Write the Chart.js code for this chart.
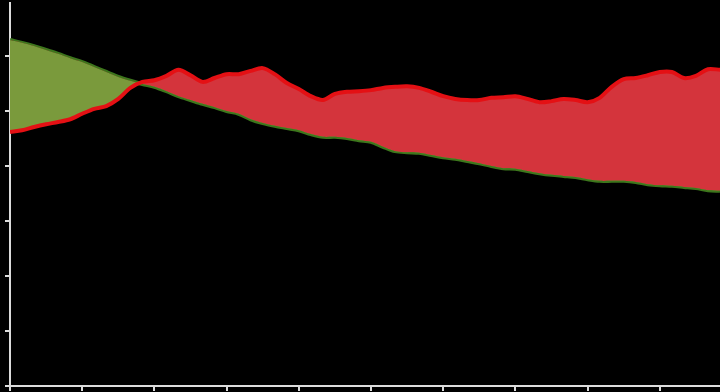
<!DOCTYPE html>
<html>
<head>
<meta charset="utf-8">
<script src="https://cdn.jsdelivr.net/npm/chart.js@4/dist/chart.umd.min.js"></script>
<style>
  html, body { margin: 0; padding: 0; background: #000; overflow: hidden; }
  #wrap { width: 720px; height: 392px; }
  #spreadChart { filter: blur(0.5px); }
</style>
</head>
<body>
<div id="wrap"><canvas id="spreadChart"></canvas></div>
<script>
'use strict';

// one point per month, axis ticks every 6 months
var months = Array.from({ length: 60 }, function (_, i) { return i; });

var redValues = [
  46.2, 46.5, 47.1, 47.6, 48.0, 48.5, 49.5, 50.4, 50.9, 52.2,
  54.2, 55.3, 55.6, 56.4, 57.5, 56.5, 55.3, 56.0, 56.7, 56.7,
  57.3, 57.8, 56.7, 55.1, 54.0, 52.7, 52.0, 53.1, 53.5, 53.6,
  53.8, 54.2, 54.4, 54.5, 54.2, 53.5, 52.7, 52.2, 52.0, 52.0,
  52.4, 52.5, 52.7, 52.2, 51.6, 51.8, 52.2, 52.0, 51.6, 52.4,
  54.4, 55.8, 56.0, 56.5, 57.1, 57.1, 56.0, 56.4, 57.6, 57.5
];

var greenValues = [
  62.9, 62.4, 61.8, 61.1, 60.4, 59.6, 58.9, 58.0, 57.1, 56.2,
  55.5, 54.9, 54.4, 53.6, 52.7, 52.0, 51.3, 50.7, 50.0, 49.5,
  48.5, 47.8, 47.3, 46.9, 46.5, 45.8, 45.3, 45.3, 45.1, 44.7,
  44.4, 43.5, 42.7, 42.5, 42.4, 42.0, 41.6, 41.3, 40.9, 40.5,
  40.0, 39.6, 39.5, 39.1, 38.7, 38.4, 38.2, 38.0, 37.6, 37.3,
  37.3, 37.3, 37.1, 36.7, 36.5, 36.4, 36.2, 36.0, 35.6, 35.5
];

function toPoints(values) {
  return values.map(function (v, i) { return { x: months[i], y: v }; });
}

var axisColor = "#dcdcdc";

var ctx = document.getElementById("spreadChart").getContext("2d");

var spreadChart = new Chart(ctx, {
  type: "line",
  data: {
    datasets: [
      {
        data: toPoints(redValues),
        borderColor: "rgb(228, 16, 20)",
        borderWidth: 4,
        pointRadius: 0,
        tension: 0.3,
        // red where it runs above the green line, green where below
        fill: { target: 1, above: "rgb(212, 52, 60)", below: "rgb(122, 154, 60)" },
      },
      {
        data: toPoints(greenValues),
        borderColor: "rgb(60, 118, 28)",
        borderWidth: 4,
        pointRadius: 0,
        tension: 0.3,
        fill: false,
      },
    ],
  },
  options: {
    responsive: true,
    maintainAspectRatio: false,
    animation: false,
    layout: { padding: { left: 5, top: 3, right: 0, bottom: 1 } },
    plugins: {
      legend: { display: false },
      tooltip: { enabled: false },
    },
    scales: {
      x: {
        type: "linear",
        min: 0,
        max: 59,
        ticks: { display: false, stepSize: 6, includeBounds: false },
        grid: { drawOnChartArea: false, tickLength: 5, tickColor: axisColor, lineWidth: 2 },
        border: { color: axisColor, width: 2 },
      },
      y: {
        min: 0,
        max: 69.64,
        ticks: { display: false, stepSize: 10, includeBounds: false },
        grid: { drawOnChartArea: false, tickLength: 5, tickColor: axisColor, lineWidth: 2 },
        border: { color: axisColor, width: 2 },
      },
    },
  },
});
</script>
</body>
</html>
